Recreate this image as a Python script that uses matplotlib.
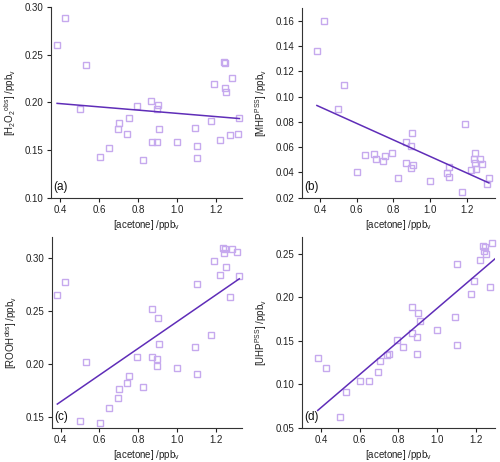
import numpy as np
import matplotlib
matplotlib.use("Agg")
import matplotlib.pyplot as plt

plt.rcParams['font.family'] = ['Liberation Sans', 'DejaVu Sans']
plt.rcParams['mathtext.fontset'] = 'custom'
plt.rcParams['mathtext.rm'] = 'Liberation Sans'
plt.rcParams['mathtext.default'] = 'regular'

# shared x: acetone (ppbv)
acetone = [0.383, 0.424, 0.500, 0.531, 0.602, 0.648, 0.697, 0.703, 0.743, 0.753,
           0.793, 0.826, 0.869, 0.871, 0.898, 0.898, 0.900, 0.910, 1.002, 1.095,
           1.105, 1.105, 1.174, 1.193, 1.222, 1.240, 1.245, 1.247, 1.252, 1.272,
           1.283, 1.312, 1.322]

h2o2_obs = [0.260, 0.289, 0.193, 0.239, 0.143, 0.152, 0.1725, 0.178, 0.1666, 0.1834,
            0.1963, 0.1396, 0.2016, 0.1585, 0.158, 0.193, 0.197, 0.1725, 0.158, 0.173,
            0.154, 0.142, 0.181, 0.2194, 0.1606, 0.2429, 0.2156, 0.2415, 0.2114, 0.1662,
            0.2254, 0.1669, 0.1837]

mhp_pss = [0.136, 0.160, 0.0905, 0.1096, 0.040, 0.054, 0.0543, 0.0503, 0.0487, 0.0527,
           0.0556, 0.0358, 0.0643, 0.0477, 0.0432, 0.0611, 0.0709, 0.0456, 0.0335, 0.0392,
           0.0445, 0.0366, 0.0242, 0.078, 0.0419, 0.0506, 0.0551, 0.0472, 0.0427, 0.0503,
           0.0464, 0.0311, 0.0353]

rooh_obs = [0.2654, 0.278, 0.1459, 0.2016, 0.144, 0.1582, 0.1682, 0.1764, 0.1821, 0.1884,
            0.2072, 0.1783, 0.2525, 0.2072, 0.1981, 0.2053, 0.2434, 0.2186, 0.1959, 0.2164,
            0.1906, 0.2752, 0.2274, 0.2972, 0.2843, 0.310, 0.3047, 0.3088, 0.2918, 0.263,
            0.3088, 0.3063, 0.283]

uhp_pss = [0.1295, 0.1181, 0.0622, 0.0913, 0.1039, 0.1039, 0.1135, 0.1261, 0.133, 0.1349,
           0.1513, 0.1422, 0.1884, 0.159, 0.1544, 0.1345, 0.1823, 0.1728, 0.162, 0.177,
           0.1452, 0.2385, 0.203, 0.2186, 0.2424, 0.2584, 0.253, 0.2576, 0.2492, 0.2121,
           0.2626, np.nan, np.nan]

# linear fit coefficients (slope, intercept)
fit_a = (-0.0170, 0.2056)
fit_b = (-0.0653, 0.1180)
fit_c = (0.1259, 0.1141)
fit_d = (0.1898, -0.0028)

panels = [
    dict(y=h2o2_obs, fit=fit_a, label='(a)',
         ylabel=r'[H$_2$O$_2$$^{obs}$] /ppb$_v$',
         xlim=(0.35, 1.335), ylim=(0.10, 0.30),
         yticks=[0.10, 0.15, 0.20, 0.25, 0.30], yfmt='%.2f',
         rect=[0.1014, 0.5721, 0.3826, 0.4121]),
    dict(y=mhp_pss, fit=fit_b, label='(b)',
         ylabel=r'[MHP$^{PSS}$] /ppb$_v$',
         xlim=(0.30, 1.355), ylim=(0.02, 0.17),
         yticks=[0.02, 0.04, 0.06, 0.08, 0.10, 0.12, 0.14, 0.16], yfmt='%.2f',
         rect=[0.6034, 0.5721, 0.3866, 0.4101]),
    dict(y=rooh_obs, fit=fit_c, label='(c)',
         ylabel=r'[ROOH$^{obs}$] /ppb$_v$',
         xlim=(0.354, 1.336), ylim=(0.14, 0.32),
         yticks=[0.15, 0.20, 0.25, 0.30], yfmt='%.2f',
         rect=[0.1034, 0.0742, 0.3806, 0.4128]),
    dict(y=uhp_pss, fit=fit_d, label='(d)',
         ylabel=r'[UHP$^{PSS}$] /ppb$_v$',
         xlim=(0.30, 1.30), ylim=(0.05, 0.269),
         yticks=[0.05, 0.10, 0.15, 0.20, 0.25], yfmt='%.2f',
         rect=[0.6034, 0.0742, 0.3866, 0.4128]),
]

marker_color = '#c6a9ee'
line_color = '#5f2db8'

fig = plt.figure(figsize=(5.0, 4.62), dpi=100)
x = np.array(acetone)
for p in panels:
    ax = fig.add_axes(p['rect'])
    y = np.array(p['y'], dtype=float)
    ax.plot(x, y, linestyle='none', marker='s', markersize=4.2,
            markerfacecolor='none', markeredgecolor=marker_color, markeredgewidth=1.0,
            clip_on=False)
    m, b = p['fit']
    xf = np.array([x.min(), x.max()])
    ax.plot(xf, m * xf + b, color=line_color, linewidth=1.1)
    ax.set_xlim(*p['xlim'])
    ax.set_ylim(*p['ylim'])
    ax.set_xticks([0.4, 0.6, 0.8, 1.0, 1.2])
    ax.set_xticklabels(['%.1f' % v for v in [0.4, 0.6, 0.8, 1.0, 1.2]])
    ax.set_yticks(p['yticks'])
    ax.set_yticklabels([p['yfmt'] % v for v in p['yticks']])
    for s in ['top', 'right']:
        ax.spines[s].set_visible(False)
    for s in ['left', 'bottom']:
        ax.spines[s].set_linewidth(0.8)
        ax.spines[s].set_color('#333333')
    ax.tick_params(direction='out', length=3, width=0.8, labelsize=7, pad=2,
                   colors='#222222')
    ax.set_xlabel(r'[acetone] /ppb$_v$', fontsize=7, labelpad=2.5, color='#222222')
    ax.set_ylabel(p['ylabel'], fontsize=7, labelpad=5, color='#222222')
    ax.text(0.015, 0.025, p['label'], transform=ax.transAxes, fontsize=8.5,
            ha='left', va='bottom', color='#111111')

fig.savefig('out.png', dpi=100)
